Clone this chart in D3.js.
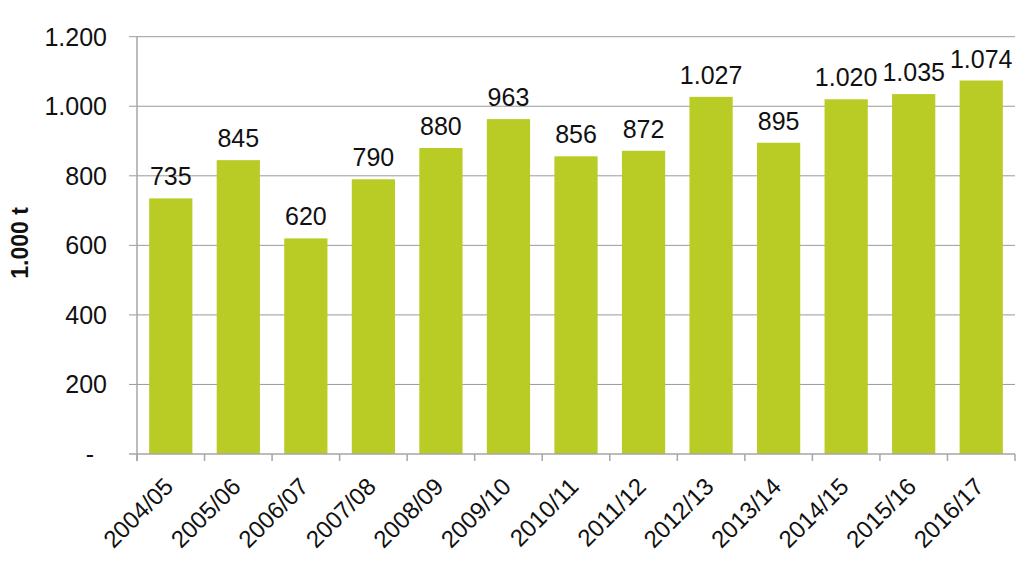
<!DOCTYPE html>
<html><head><meta charset="utf-8">
<script src="https://cdn.jsdelivr.net/npm/d3@7/dist/d3.min.js"></script>
<style>
html,body{margin:0;padding:0;background:#fff;}
svg{display:block;font-family:"Liberation Sans",Arial,sans-serif;}
</style></head>
<body>
<svg id="chart" width="1024" height="573"></svg>
<script>
const categories = ["2004/05","2005/06","2006/07","2007/08","2008/09","2009/10","2010/11","2011/12","2012/13","2013/14","2014/15","2015/16","2016/17"];
const values = [735,845,620,790,880,963,856,872,1027,895,1020,1035,1074];
const yTicks = [0,200,400,600,800,1000,1200];
const yTickLabels = ["-","200","400","600","800","1.000","1.200"];
const yTitle = "1.000 t";

const fmt = v => d3.format(",")(v).replace(/,/g, ".");

const svg = d3.select("#chart");
const pLeft = 137, pRight = 1015, pTop = 36.7, pBottom = 454;

const x = d3.scaleBand().domain(categories).range([pLeft, pRight]).paddingInner(0.36).paddingOuter(0.18);
const y = d3.scaleLinear().domain([0, 1200]).range([pBottom, pTop]);

// gridlines
svg.append("g").selectAll("line").data(yTicks.filter(d => d > 0)).join("line")
  .attr("x1", pLeft - 8).attr("x2", pRight)
  .attr("y1", d => y(d)).attr("y2", d => y(d))
  .attr("stroke", "#9a9a9a").attr("stroke-width", 1);

// bars
svg.append("g").selectAll("rect").data(values).join("rect")
  .attr("x", (d, i) => x(categories[i]))
  .attr("width", x.bandwidth())
  .attr("y", d => y(d))
  .attr("height", d => y(0) - y(d))
  .attr("fill", "#b9cc25");

// axes lines
svg.append("line").attr("x1", pLeft).attr("x2", pLeft).attr("y1", pTop).attr("y2", pBottom + 7)
  .attr("stroke", "#a6a6a6").attr("stroke-width", 1.5);
svg.append("line").attr("x1", pLeft - 8).attr("x2", pRight).attr("y1", pBottom).attr("y2", pBottom)
  .attr("stroke", "#a6a6a6").attr("stroke-width", 1.5);

// x ticks at band boundaries
const bounds = d3.range(categories.length + 1).map(i => pLeft + i * (pRight - pLeft) / categories.length);
svg.append("g").selectAll("line").data(bounds).join("line")
  .attr("x1", d => d).attr("x2", d => d).attr("y1", pBottom).attr("y2", pBottom + 7)
  .attr("stroke", "#a6a6a6").attr("stroke-width", 1.5);

// y tick labels
svg.append("g").selectAll("text").data(yTicks).join("text")
  .attr("x", (d, i) => i === 0 ? 94 : 107)
  .attr("y", d => y(d) + 9)
  .attr("text-anchor", "end")
  .attr("font-size", 25)
  .attr("fill", "#111")
  .text((d, i) => yTickLabels[i]);

// y title
svg.append("text")
  .attr("transform", "translate(28,243) rotate(-90)")
  .attr("text-anchor", "middle")
  .attr("font-size", 23)
  .attr("font-weight", "bold")
  .attr("fill", "#111")
  .text(yTitle);

// value labels
svg.append("g").selectAll("text").data(values).join("text")
  .attr("x", (d, i) => x(categories[i]) + x.bandwidth() / 2)
  .attr("y", d => y(d) - 13)
  .attr("text-anchor", "middle")
  .attr("font-size", 25)
  .attr("fill", "#111")
  .text(d => fmt(d));

// x labels
svg.append("g").selectAll("text").data(categories).join("text")
  .attr("transform", d => `translate(${x(d) + x.bandwidth() / 2 + 4},${pBottom + 34}) rotate(-45)`)
  .attr("text-anchor", "end")
  .attr("font-size", 24)
  .attr("fill", "#111")
  .text(d => d);
</script>
</body></html>
